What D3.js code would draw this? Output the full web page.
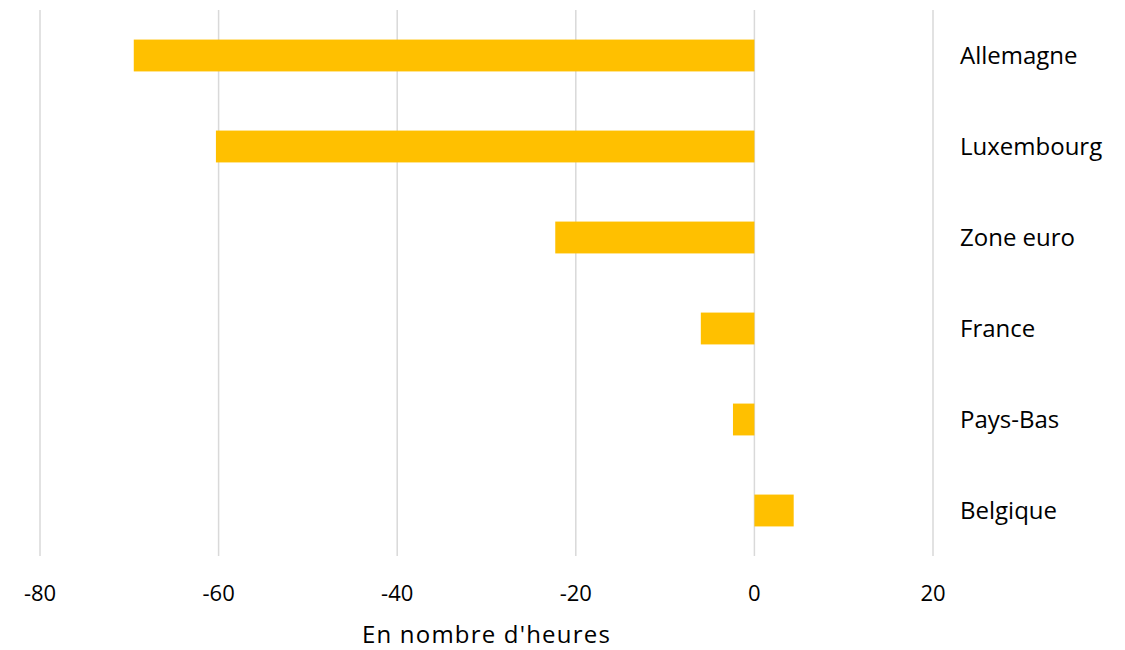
<!DOCTYPE html>
<html><head><meta charset="utf-8">
<script src="https://cdn.jsdelivr.net/npm/d3@7"></script>
<style>body{margin:0;background:#fff}svg{display:block}text{font-family:"Open Sans",sans-serif;fill:#000}</style>
</head><body><svg id="c" width="1125" height="650"></svg>
<script>
const categories = ["Allemagne","Luxembourg","Zone euro","France","Pays-Bas","Belgique"];
const values = [-69.5,-60.3,-22.3,-6.0,-2.4,4.4];
const tickValues = [-80,-60,-40,-20,0,20];
const axisTitle = "En nombre d'heures";

const svg = d3.select("#c");
const x = d3.scaleLinear().domain([-80,20]).range([40,933]);
const y = d3.scaleBand().domain(categories).range([10,556]).paddingInner(0.65).paddingOuter(0.325);

svg.append("g").selectAll("line").data(tickValues).join("line")
  .attr("x1",d=>x(d)).attr("x2",d=>x(d)).attr("y1",10).attr("y2",556)
  .attr("stroke","#d9d9d9").attr("stroke-width",1.5);

svg.append("g").selectAll("rect").data(values).join("rect")
  .attr("x",d=>x(Math.min(0,d))).attr("width",d=>Math.abs(x(d)-x(0)))
  .attr("y",(d,i)=>y(categories[i])).attr("height",y.bandwidth())
  .attr("fill","#FFC000");

svg.append("g").selectAll("text").data(categories).join("text")
  .attr("x",960).attr("y",d=>y(d)+y.bandwidth()/2).attr("dy","0.35em")
  .attr("font-size",24).text(d=>d);

svg.append("g").selectAll("text").data(tickValues).join("text")
  .attr("x",d=>x(d)).attr("y",593).attr("dy","0.35em").attr("text-anchor","middle")
  .attr("font-size",22).text(d=>d);

svg.append("text").attr("x",(x(-80)+x(20))/2).attr("y",643)
  .attr("text-anchor","middle").attr("font-size",24).attr("letter-spacing","1.2px").text(axisTitle);
</script></body></html>
